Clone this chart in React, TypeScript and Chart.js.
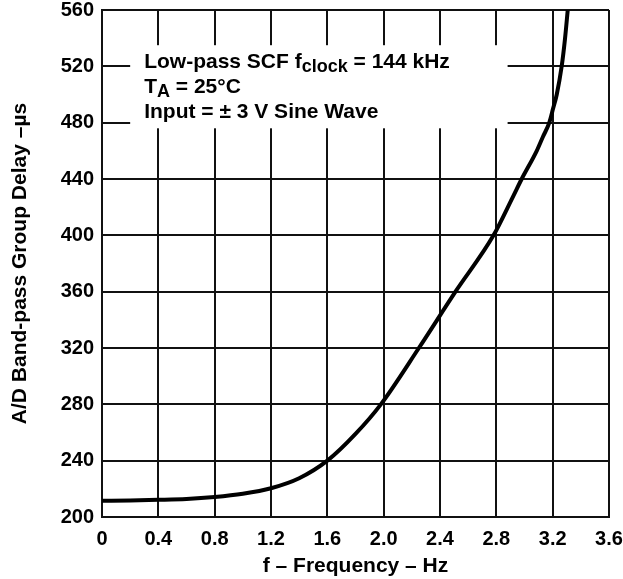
import React, { useEffect, useRef } from "react";
import Chart from "chart.js/auto";

const freqHz = [0, 0.2, 0.4, 0.6, 0.8, 1.0, 1.2, 1.4, 1.6, 1.8, 1.98, 2.25, 2.51, 2.78, 2.916, 2.98, 3.087, 3.131, 3.176, 3.203, 3.229, 3.264, 3.288, 3.307];
const delayUs = [211.5, 211.8, 212.2, 212.8, 214.2, 216.5, 220.4, 227.5, 240, 259, 280, 320, 360, 400, 427, 440, 460, 470, 480, 490, 500, 520, 540, 560];

const xTicks = [0, 0.4, 0.8, 1.2, 1.6, 2.0, 2.4, 2.8, 3.2, 3.6];
const yTicks = [200, 240, 280, 320, 360, 400, 440, 480, 520, 560];

const noteBoxX = [0.2, 2.88];
const noteBoxY = [476, 535];

const FONT = "'Liberation Sans', Arial, Helvetica, sans-serif";

const notePlugin = {
  id: "noteBox",
  beforeDatasetsDraw(chart: any) {
    const { ctx, scales } = chart;
    const x0 = scales.x.getPixelForValue(noteBoxX[0]);
    const x1 = scales.x.getPixelForValue(noteBoxX[1]);
    const y0 = scales.y.getPixelForValue(noteBoxY[1]);
    const y1 = scales.y.getPixelForValue(noteBoxY[0]);
    ctx.save();
    ctx.fillStyle = "#fff";
    ctx.fillRect(x0, y0, x1 - x0, y1 - y0);
    ctx.fillStyle = "#000";
    ctx.textBaseline = "alphabetic";
    ctx.textAlign = "left";
    const main = `bold 21px ${FONT}`;
    const sub = `bold 18px ${FONT}`;
    const tx = x0 + 14;
    const drawRuns = (runs: [string, boolean][], baseY: number) => {
      let x = tx;
      for (const [t, isSub] of runs) {
        ctx.font = isSub ? sub : main;
        ctx.fillText(t, x, isSub ? baseY + 4 : baseY);
        x += ctx.measureText(t).width;
      }
    };
    drawRuns([["Low-pass SCF f", false], ["clock", true], [" = 144 kHz", false]], y0 + 23);
    drawRuns([["T", false], ["A", true], [" = 25°C", false]], y0 + 48);
    drawRuns([["Input = ± 3 V Sine Wave", false]], y0 + 73);
    ctx.restore();
  },
};

export default function App() {
  const ref = useRef<HTMLCanvasElement>(null);
  useEffect(() => {
    if (!ref.current) return;
    const chart = new Chart(ref.current, {
      type: "line",
      data: {
        datasets: [
          {
            data: freqHz.map((x, i) => ({ x, y: delayUs[i] })),
            borderColor: "#000",
            borderWidth: 4,
            pointRadius: 0,
            cubicInterpolationMode: "monotone",
            fill: false,
          },
        ],
      },
      options: {
        animation: false,
        responsive: false,
        layout: { padding: 0 },
        plugins: { legend: { display: false }, tooltip: { enabled: false } },
        scales: {
          x: {
            type: "linear",
            min: 0,
            max: 3.6,
            afterBuildTicks: (s: any) => {
              s.ticks = xTicks.map((v) => ({ value: v }));
            },
            afterFit: (s: any) => {
              s.height = 62;
              s.paddingLeft = 0;
              s.paddingRight = 14;
            },
            ticks: {
              color: "#000",
              font: { family: FONT, size: 20, weight: "bold" },
              padding: 10,
              maxRotation: 0,
              autoSkip: false,
              callback: (v: any) => (v === 0 ? "0" : Number(v).toFixed(1)),
            },
            grid: { color: "#111", lineWidth: 2, drawTicks: false },
            border: { display: true, color: "#111", width: 2 },
            title: {
              display: true,
              text: "f – Frequency – Hz",
              color: "#000",
              font: { family: FONT, size: 21, weight: "bold" },
              padding: { top: 0, bottom: 0 },
            },
          },
          y: {
            type: "linear",
            min: 200,
            max: 560,
            afterBuildTicks: (s: any) => {
              s.ticks = yTicks.map((v) => ({ value: v }));
            },
            afterFit: (s: any) => {
              s.width = 102;
              s.paddingTop = 10;
              s.paddingBottom = 0;
            },
            ticks: {
              color: "#000",
              font: { family: FONT, size: 20, weight: "bold" },
              padding: 8,
              autoSkip: false,
            },
            grid: { color: "#111", lineWidth: 2, drawTicks: false },
            border: { display: true, color: "#111", width: 2 },
            title: {
              display: true,
              text: "A/D Band-pass Group Delay –µs",
              color: "#000",
              font: { family: FONT, size: 21, weight: "bold" },
              padding: { top: 8, bottom: 0 },
            },
          },
        },
      },
      plugins: [notePlugin],
    } as any);
    return () => chart.destroy();
  }, []);
  return (
    <div style={{ position: "absolute", left: 0, top: 0, width: 623, height: 579, background: "#fff" }}>
      <canvas ref={ref} width={623} height={579} style={{ display: "block" }} />
    </div>
  );
}
